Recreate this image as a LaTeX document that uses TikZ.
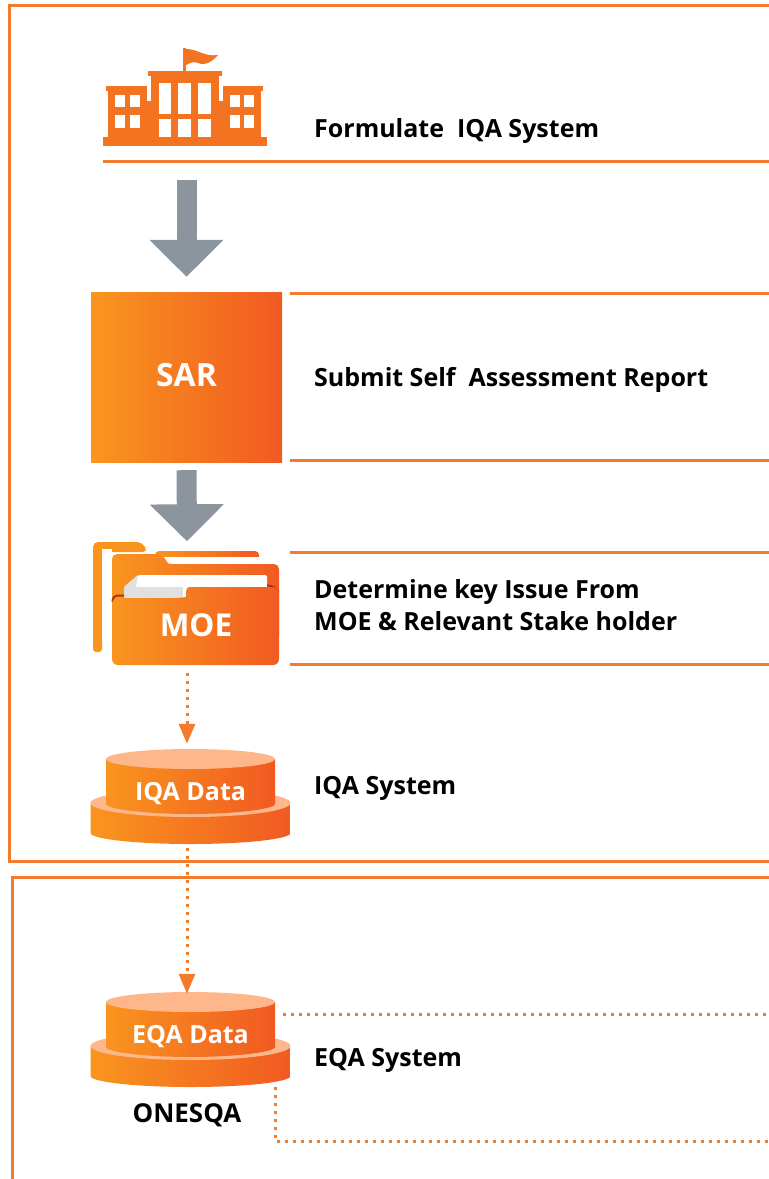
\documentclass[tikz,border=0pt]{standalone}
\usepackage{fontspec}
\setmainfont{Open Sans}
\usetikzlibrary{arrows.meta}

\definecolor{rulecolor}{HTML}{F47B2E}
\definecolor{iconcolor}{HTML}{F47321}
\definecolor{greyarrow}{HTML}{8C959D}
\definecolor{leftorange}{HTML}{F9951E}
\definecolor{midorange}{HTML}{F6802A}
\definecolor{rightorange}{HTML}{F15A22}
\definecolor{discpale}{HTML}{FDB78A}

\tikzset{
  panel/.style={draw=rulecolor, line width=3},
  rulerow/.style={draw=rulecolor, line width=2.6},
  orangefill/.style={left color=leftorange, middle color=midorange, right color=rightorange},
  steptext/.style={anchor=west, align=left, inner sep=0, font=\fontsize{25}{32.5}\selectfont\bfseries},
  whitetext/.style={text=white, inner sep=0, font=\fontsize{#1}{#1}\selectfont\bfseries},
  bigarrow/.style={draw=greyarrow, line width=20, -{Triangle[length=37,width=72]}},
  dotline/.style={draw=rulecolor, line width=3, dash pattern=on 3 off 5},
  dotarrow/.style={dotline, -{Triangle[length=20,width=16,fill=rulecolor]}},
  datastack/.pic={
    \path[orangefill] (-100,44) -- (-100,74) .. controls (-100,80) and (-55,85) .. (0,85)
      .. controls (55,85) and (100,80) .. (100,74) -- (100,44) -- cycle;
    \fill[discpale] (0,44) ellipse [x radius=100, y radius=14];
    \path[orangefill] (-84.5,0) -- (-84.5,45) .. controls (-84.5,50) and (-45,55) .. (0,55)
      .. controls (45,55) and (84.5,50) .. (84.5,45) -- (84.5,0) -- cycle;
    \fill[discpale] (0,0) ellipse [x radius=84.5, y radius=10];
    \node[whitetext=25] (-label) at (0,35) {\tikzpictext};
    \node[minimum width=200, minimum height=95, inner sep=0] (-body) at (0,37.5) {};
    \node[minimum width=169, minimum height=65, inner sep=0] (-top) at (0,22.5) {};
  }
}

\begin{document}
\begin{tikzpicture}[x=1pt, y=-1pt]
\useasboundingbox (0,0) rectangle (769,1179);

% frames
\draw[panel] (769,5) -- (9,5) -- (9,861) -- (769,861);
\draw[panel] (769,877) -- (12,877) -- (12,1179);

% rules beside the steps
\draw[rulerow] (103,161.5) -- (769,161.5);
\draw[rulerow] (290,293.5) -- (769,293.5);
\draw[rulerow] (290,460.5) -- (769,460.5);
\draw[rulerow] (290,552.5) -- (769,552.5);
\draw[rulerow] (290,664.5) -- (769,664.5);

% school
\fill[iconcolor] (103,137) rectangle (267,146);
\fill[iconcolor] (106,86) rectangle (147,91);
\fill[iconcolor] (108,91) rectangle (147,137);
\fill[iconcolor] (147,101) rectangle (151,137);
\fill[iconcolor] (148,71) rectangle (222,76);
\fill[iconcolor] (151,76) rectangle (219,137);
\fill[iconcolor] (219,101) rectangle (223,137);
\fill[iconcolor] (223,86) rectangle (263,91);
\fill[iconcolor] (223,91) rectangle (261,137);
\fill[iconcolor] (183,48) rectangle (186,71);
\fill[iconcolor] (186,49) .. controls (198,49) and (204,57) .. (218,55)
  .. controls (212,62) and (205,66) .. (198,63) .. controls (194,61) and (190,63) .. (186,65) -- cycle;
\foreach \x/\w in {159/12,178/13,198/13} {
  \fill[white] (\x,83) rectangle ++(\w,31);
  \fill[white] (\x,119) rectangle ++(\w,18);
}
\foreach \x in {115,130,230,244} {
  \fill[white] (\x,95) rectangle ++(10,12);
  \fill[white] (\x,115) rectangle ++(10,13);
}
\node[minimum width=164, minimum height=98, inner sep=0] (school) at (185,97) {};

\node[steptext] (formulate) at (314,131) {Formulate\ \ IQA System};

% SAR
\node[orangefill, minimum width=191, minimum height=170, inner sep=0] (sar) at (186.5,377) {};
\node[whitetext=32] (sarlabel) at (186.5,375) {SAR};
\node[steptext] (submit) at (314,380) {Submit Self\ \ Assessment Report};

% MOE folder
\fill[leftorange, rounded corners=5] (93,652) -- (93,542) -- (142,542) -- (148,552) -- (93,552) -- cycle;
\fill[leftorange, rounded corners=3] (93,652) -- (93,545) -- (102,545) -- (102,652) -- cycle;
\path[orangefill, rounded corners=4] (155,551) -- (259,551) -- (259,562) -- (155,562) -- cycle;
\fill[white] (102,549) rectangle (112,640);
\path[orangefill, rounded corners=5] (112,640) -- (112,554) -- (160,554) -- (168,564) -- (279,564) -- (279,640) -- cycle;
\fill[white] (150,557) -- (259,557) -- (259,563.5) -- (168.5,563.5) -- (164,557) -- cycle;
\fill[white, rounded corners=2] (124,600) -- (124,587) -- (138,575) -- (267,575) -- (267,600) -- cycle;
\fill[black!12] (124,587) -- (136,587) -- (138,575) -- cycle;
\fill[black!12] (124,587) rectangle (183,598);
\draw[black!35!rightorange, line width=2, rounded corners=5] (112.5,602) -- (112.5,595.5) -- (124,595.5);
\draw[black!35!rightorange, line width=2, rounded corners=5] (267,585.5) -- (273,585.5) -- (278.5,592);
\path[orangefill, rounded corners=6] (112,665) -- (112,598) -- (180,598) .. controls (186,597) and (185,587) .. (195,587)
  -- (279,587) -- (279,665) -- cycle;
\node[whitetext=31.5] (moelabel) at (196,625) {MOE};
\node[minimum width=188, minimum height=124, inner sep=0] (moe) at (187,603.5) {};

\node[steptext] (determine) at (314,605) {Determine key Issue From\\MOE \& Relevant Stake holder};

% data stores
\pic[pic text={IQA Data}] (iqa) at (190.5,759) {datastack};
\pic[pic text={EQA Data}] (eqa) at (190.5,1002) {datastack};
\node[steptext] (iqasystem) at (314,788) {IQA System};
\node[steptext] (eqasystem) at (314,1060) {EQA System};
\node[inner sep=0, font=\fontsize{26}{26}\selectfont\bfseries] (onesqa) at (187,1115) {ONESQA};

% flow
\draw[bigarrow, shorten <=34, shorten >=15] (sar.north |- school.south) -- (sar.north);
\draw[bigarrow, shorten <=8] (sar.south) -- (moe.north);
\draw[dotarrow, shorten <=7, shorten >=5] (moe.south) -- (moe.south |- iqa-body.north);
\draw[dotarrow, shorten <=4, shorten >=-2] (moe.south |- iqa-body.south) -- (moe.south |- eqa-body.north);

\coordinate (eqaout) at (769,1014);
\coordinate (eqaback) at (769,1141);
\draw[dotline, shorten <=8] (eqa-top.east |- eqaout) -- (eqaout);
\draw[dotline] (eqa-top.east |- eqa-body.south) |- (eqaback);

\end{tikzpicture}
\end{document}
